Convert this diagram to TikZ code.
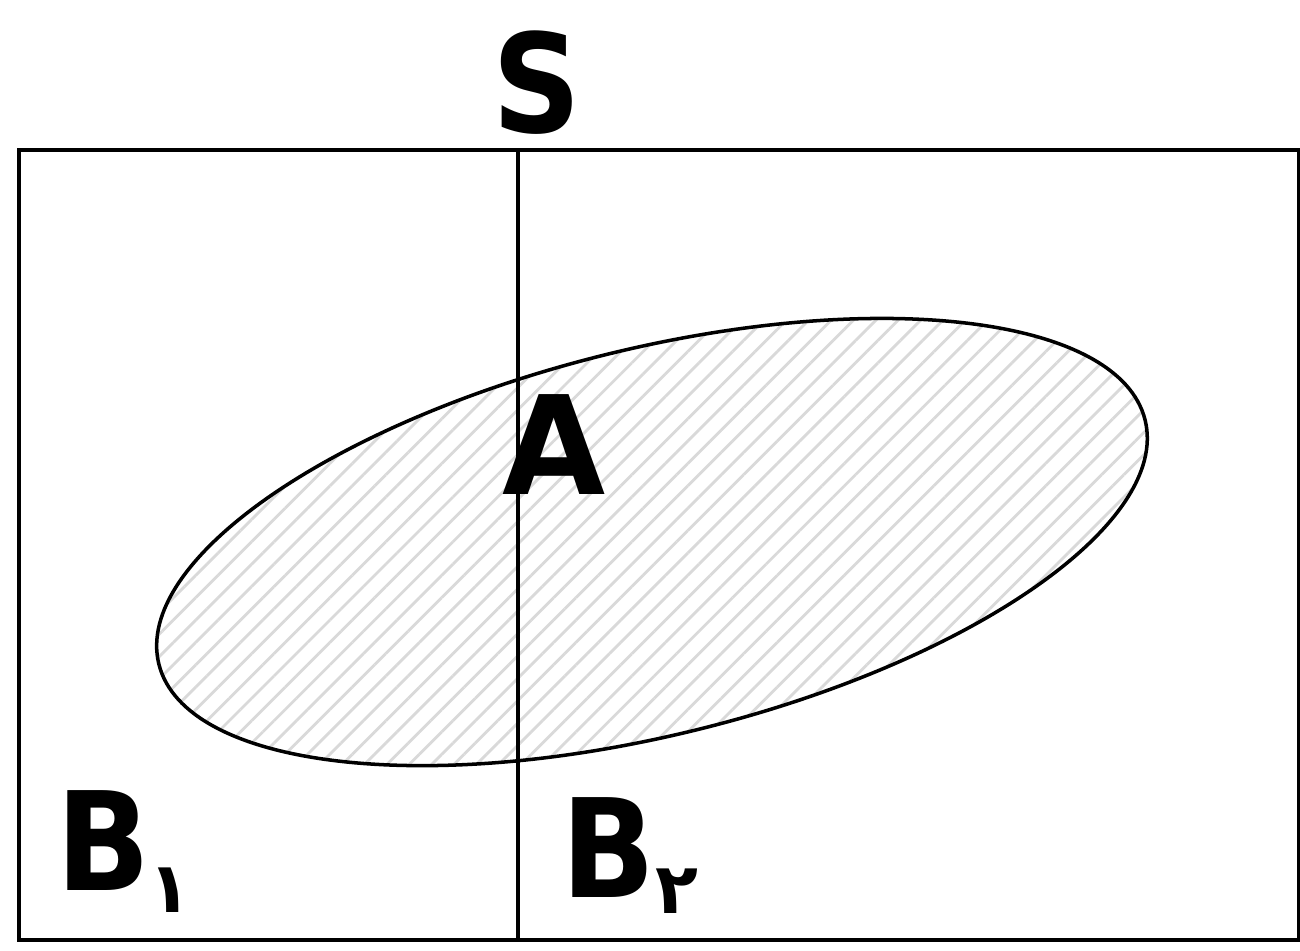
\documentclass[tikz,border=0pt]{standalone}
\usepackage{fontspec}
\setmainfont{DejaVu Sans Condensed}
\newfontfamily\subfont[Script=Arabic]{DejaVu Sans}
\usetikzlibrary{patterns.meta}
\tikzset{
  lbl/.style={font=\fontsize{39}{46}\selectfont\bfseries,inner sep=0pt,anchor=base west},
  hatch/.style={line width=1pt,pattern={Lines[angle=45,distance=4.5pt,line width=0.8pt]},pattern color=gray!30}
}
\begin{document}
\begin{tikzpicture}[x=1cm,y=1cm]
	\useasboundingbox (0,0) rectangle (13,9.5);
	\coordinate (sw) at (0.19,0.10);
	\coordinate (ne) at (12.99,8.0);
	\coordinate (top) at (5.18,8.0);
	\coordinate (bot) at (5.18,0.10);
	\coordinate (c) at (6.52,4.08);
	% event A
	\draw[hatch,rotate around={13.9:(c)}] (c) ellipse (5.08 and 1.93);
	% sample space and partition
	\draw[line width=1pt] (sw) rectangle (ne);
	\draw[line width=1pt] (top) -- (bot);
	\node[lbl] (s) at (4.92,8.17) {S};
	\node[lbl,xscale=1.08] (a) at (5.02,4.55) {A};
	\node[lbl] (b1) at (0.56,0.60) {B\hspace{-0.02cm}\raisebox{-0.22cm}{\fontsize{20}{24}\subfont\bfseries ١}};
	\node[lbl] (b2) at (5.61,0.53) {B\raisebox{-0.16cm}{\fontsize{20}{24}\subfont\bfseries ٢}};
\end{tikzpicture}
\end{document}
